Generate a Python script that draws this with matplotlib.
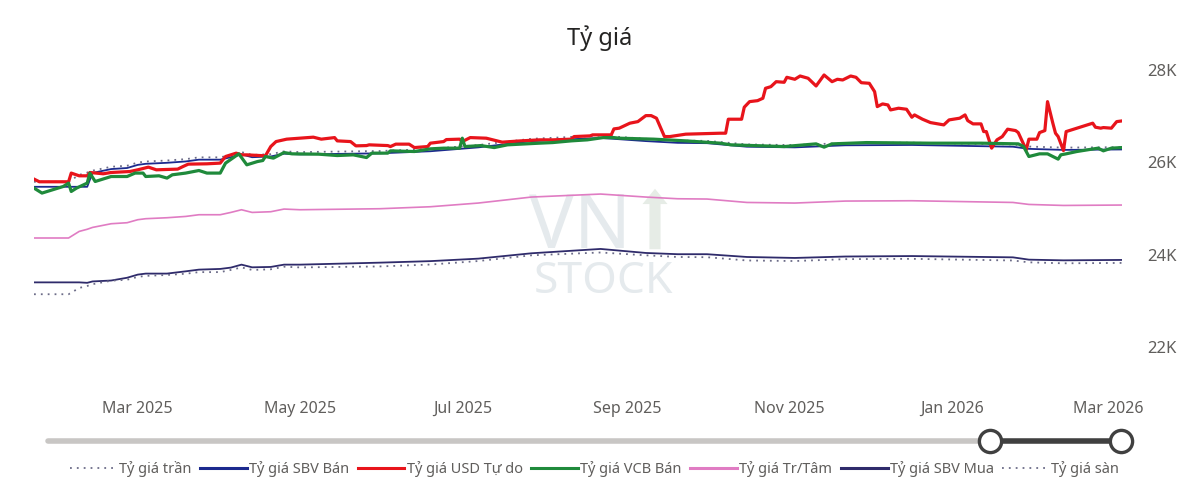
import matplotlib
matplotlib.use("Agg")
import matplotlib.pyplot as plt
import pandas as pd
from matplotlib.lines import Line2D

plt.rcParams['font.family'] = ['Noto Sans', 'DejaVu Sans']

# ---------------- data ----------------
title = "Tỷ giá"

base_dates = ["2025-01-21", "2025-02-03", "2025-02-07", "2025-02-10", "2025-02-12", "2025-02-19",
              "2025-02-25", "2025-03-01", "2025-03-04", "2025-03-12", "2025-03-19", "2025-03-24",
              "2025-04-01", "2025-04-05", "2025-04-09", "2025-04-13", "2025-04-20", "2025-04-25",
              "2025-05-01", "2025-05-31", "2025-06-19", "2025-07-07", "2025-07-27", "2025-08-22",
              "2025-09-08", "2025-09-20", "2025-10-01", "2025-10-16", "2025-11-03", "2025-11-22",
              "2025-12-17", "2026-01-24", "2026-01-30", "2026-02-12", "2026-03-06"]

tr_tam = [24361, 24361, 24504, 24550, 24590, 24670, 24692, 24757, 24779, 24800, 24828, 24865,
          24865, 24915, 24973, 24915, 24930, 24988, 24973, 24995, 25038, 25118, 25248, 25313,
          25248, 25211, 25205, 25131, 25118, 25161, 25168, 25131, 25088, 25066, 25075]

sbv_mua = [23400, 23400, 23400, 23390, 23420, 23440, 23500, 23568, 23590, 23590, 23639, 23676,
           23691, 23720, 23784, 23726, 23734, 23784, 23784, 23827, 23860, 23914, 24030, 24124,
           24037, 24010, 24010, 23950, 23929, 23960, 23970, 23942, 23892, 23877, 23886]

ty_gia_san = [23143, 23143, 23279, 23322, 23360, 23436, 23457, 23519, 23540, 23560, 23587, 23622,
              23622, 23669, 23724, 23669, 23683, 23739, 23724, 23745, 23786, 23862, 23986, 24047,
              23986, 23950, 23945, 23874, 23862, 23903, 23910, 23874, 23834, 23813, 23821]

ty_gia_tran = [25579, 25579, 25729, 25778, 25820, 25904, 25927, 25995, 26018, 26040, 26069, 26108,
               26108, 26161, 26222, 26161, 26177, 26237, 26222, 26245, 26290, 26374, 26510, 26579,
               26510, 26472, 26465, 26388, 26374, 26419, 26426, 26388, 26342, 26319, 26329]

sbv_ban = [25470, 25470, 25470, 25470, 25770, 25854, 25877, 25945, 25968, 25990, 26019, 26058,
           26058, 26111, 26172, 26111, 26127, 26187, 26172, 26195, 26240, 26324, 26460, 26529,
           26460, 26422, 26415, 26338, 26324, 26369, 26376, 26338, 26292, 26269, 26279]

usd_dates = ["2025-01-21", "2025-01-23", "2025-02-03", "2025-02-04", "2025-02-07", "2025-02-10",
             "2025-02-11", "2025-02-16", "2025-02-19", "2025-02-26", "2025-03-01", "2025-03-05",
             "2025-03-08", "2025-03-16", "2025-03-18", "2025-03-20", "2025-03-27", "2025-04-01",
             "2025-04-03", "2025-04-07", "2025-04-09", "2025-04-11", "2025-04-18", "2025-04-20",
             "2025-04-22", "2025-04-26", "2025-05-06", "2025-05-09", "2025-05-14", "2025-05-15",
             "2025-05-20", "2025-05-22", "2025-05-26", "2025-05-27", "2025-06-03", "2025-06-04",
             "2025-06-06", "2025-06-11", "2025-06-13", "2025-06-18", "2025-06-19", "2025-06-24",
             "2025-06-25", "2025-06-30", "2025-07-01", "2025-07-04", "2025-07-10", "2025-07-16",
             "2025-07-23", "2025-07-30", "2025-08-04", "2025-08-11", "2025-08-12", "2025-08-18",
             "2025-08-19", "2025-08-26", "2025-08-27", "2025-08-29", "2025-09-02", "2025-09-05",
             "2025-09-08", "2025-09-10", "2025-09-12", "2025-09-15", "2025-09-17", "2025-09-23",
             "2025-10-06", "2025-10-08", "2025-10-09", "2025-10-14", "2025-10-15", "2025-10-17",
             "2025-10-20", "2025-10-22", "2025-10-23", "2025-10-25", "2025-10-27", "2025-10-30",
             "2025-10-31", "2025-11-03", "2025-11-05", "2025-11-08", "2025-11-11", "2025-11-14",
             "2025-11-17", "2025-11-19", "2025-11-21", "2025-11-24", "2025-11-26", "2025-11-28",
             "2025-12-01", "2025-12-03", "2025-12-04", "2025-12-06", "2025-12-08", "2025-12-09",
             "2025-12-12", "2025-12-15", "2025-12-17", "2025-12-18", "2025-12-21", "2025-12-24",
             "2025-12-29", "2025-12-31", "2026-01-04", "2026-01-06", "2026-01-07", "2026-01-09",
             "2026-01-12", "2026-01-13", "2026-01-14", "2026-01-16", "2026-01-18", "2026-01-20",
             "2026-01-22", "2026-01-25", "2026-01-26", "2026-01-29", "2026-01-30", "2026-02-02",
             "2026-02-03", "2026-02-05", "2026-02-06", "2026-02-08", "2026-02-09", "2026-02-10",
             "2026-02-12", "2026-02-13", "2026-02-23", "2026-02-24", "2026-02-26", "2026-02-27",
             "2026-03-02", "2026-03-04", "2026-03-06"]
usd_tu_do = [25637, 25579, 25579, 25767, 25708, 25708,
             25780, 25752, 25780, 25801, 25838, 25896,
             25838, 25853, 25909, 25961, 25968, 25983,
             26126, 26199, 26162, 26162, 26141, 26342,
             26450, 26502, 26545, 26502, 26536, 26465,
             26450, 26357, 26363, 26379, 26363, 26342,
             26394, 26394, 26320, 26342, 26415, 26450,
             26493, 26502, 26450, 26536, 26523, 26437,
             26465, 26487, 26487, 26502, 26558, 26573,
             26595, 26595, 26724, 26740, 26848, 26882,
             27012, 27012, 26956, 26558, 26558, 26610,
             26631, 26631, 26934, 26934, 27194, 27315,
             27336, 27388, 27604, 27639, 27747, 27734,
             27842, 27799, 27870, 27821, 27654, 27892,
             27747, 27799, 27784, 27870, 27842, 27725,
             27712, 27531, 27207, 27265, 27243, 27135,
             27172, 27150, 26977, 27027, 26934, 26861,
             26811, 26919, 26956, 27027, 26904, 26833,
             26833, 26666, 26666, 26307, 26487, 26558,
             26718, 26688, 26644, 26270, 26502, 26502,
             26644, 26688, 27315, 26848, 26631, 26558,
             26255, 26666, 26848, 26761, 26740, 26753,
             26740, 26882, 26897]

vcb_dates = ["2025-01-21", "2025-01-24", "2025-02-01", "2025-02-03", "2025-02-04", "2025-02-06",
             "2025-02-10", "2025-02-11", "2025-02-13", "2025-02-19", "2025-02-25", "2025-02-28",
             "2025-03-03", "2025-03-04", "2025-03-09", "2025-03-12", "2025-03-14", "2025-03-19",
             "2025-03-24", "2025-03-27", "2025-04-01", "2025-04-03", "2025-04-08", "2025-04-11",
             "2025-04-15", "2025-04-17", "2025-04-18", "2025-04-21", "2025-04-25", "2025-04-28",
             "2025-05-08", "2025-05-15", "2025-05-21", "2025-05-26", "2025-05-28", "2025-06-03",
             "2025-06-04", "2025-06-13", "2025-06-19", "2025-06-24", "2025-06-30", "2025-07-01",
             "2025-07-02", "2025-07-08", "2025-07-13", "2025-07-18", "2025-07-23", "2025-07-30",
             "2025-08-04", "2025-08-11", "2025-08-17", "2025-08-23", "2025-08-27", "2025-08-29",
             "2025-09-11", "2025-09-23", "2025-10-06", "2025-10-10", "2025-10-30", "2025-11-11",
             "2025-11-14", "2025-11-17", "2025-11-30", "2025-12-24", "2026-01-12", "2026-01-26",
             "2026-01-28", "2026-01-30", "2026-02-03", "2026-02-06", "2026-02-10", "2026-02-11",
             "2026-02-13", "2026-02-17", "2026-02-25", "2026-02-27", "2026-03-02", "2026-03-06"]
vcb_ban = [25442, 25334, 25477, 25550, 25369, 25442,
           25550, 25767, 25585, 25693, 25693, 25767,
           25767, 25693, 25708, 25659, 25730, 25767,
           25823, 25767, 25767, 25983, 26184, 25946,
           26017, 26039, 26126, 26091, 26212, 26184,
           26177, 26147, 26162, 26104, 26199, 26199,
           26249, 26234, 26292, 26307, 26307, 26523,
           26342, 26363, 26320, 26379, 26394, 26415,
           26428, 26465, 26487, 26536, 26536, 26523,
           26502, 26465, 26415, 26379, 26342, 26400,
           26329, 26400, 26428, 26415, 26415, 26400,
           26342, 26126, 26184, 26184, 26069, 26162,
           26184, 26234, 26307, 26249, 26307, 26320]

y_ticks = [22000, 24000, 26000, 28000]
y_tick_labels = ["22K", "24K", "26K", "28K"]
x_ticks = ["2025-03-01", "2025-05-01", "2025-07-01", "2025-09-01", "2025-11-01", "2026-01-01", "2026-03-01"]
x_tick_labels = ["Mar 2025", "May 2025", "Jul 2025", "Sep 2025", "Nov 2025", "Jan 2026", "Mar 2026"]

labels = ["Tỷ giá trần", "Tỷ giá SBV Bán", "Tỷ giá USD Tự do", "Tỷ giá VCB Bán",
          "Tỷ giá Tr/Tâm", "Tỷ giá SBV Mua", "Tỷ giá sàn"]

# ---------------- styles ----------------
C_DOT = "#6c6c88"
C_SBVB = "#1c2a8e"
C_USD = "#e8141b"
C_VCB = "#1f8a3b"
C_TT = "#e07cc3"
C_SBVM = "#2f2b6b"
TXT = "#605e5c"
DOTS = (0, (1, 2.8))

W, H = 1200, 491
fig = plt.figure(figsize=(W / 100, H / 100), dpi=100)
fig.patch.set_facecolor("white")

# decoration layer (watermark + slider), in pixel coords
deco = fig.add_axes([0, 0, 1, 1], zorder=0)
deco.set_xlim(0, W)
deco.set_ylim(H, 0)
deco.axis("off")
deco.text(580, 228, "VN", fontsize=54, fontweight="bold", color="#e5eaed", ha="center", va="center")
deco.text(603, 282, "STOCK", fontsize=32, fontweight="bold", color="#e5eaed", ha="center", va="center")
deco.annotate("", xy=(655, 186), xytext=(655, 252),
              arrowprops=dict(arrowstyle="simple,head_width=1.8,head_length=1.1,tail_width=0.8",
                              color="#e6ece6", lw=0))

# slider
deco.plot([48, 990], [441, 441], color="#c8c6c4", lw=4, solid_capstyle="round")
deco.plot([990, 1121], [441, 441], color="#404040", lw=4)
deco.plot([990, 1121], [441, 441], ls="none", marker="o", ms=16, mfc="white", mec="#404040", mew=2.4)

# main chart
ax = fig.add_axes([34 / W, 144 / H, 1088 / W, 277 / H], zorder=1)
ax.patch.set_alpha(0)

bd = pd.to_datetime(base_dates)
ax.plot(bd, ty_gia_tran, color=C_DOT, lw=1.3, ls=DOTS)
ax.plot(bd, sbv_ban, color=C_SBVB, lw=1.3)
ax.plot(pd.to_datetime(usd_dates), usd_tu_do, color=C_USD, lw=2.3, solid_joinstyle="round")
ax.plot(pd.to_datetime(vcb_dates), vcb_ban, color=C_VCB, lw=2.3, solid_joinstyle="round")
ax.plot(bd, tr_tam, color=C_TT, lw=1.2)
ax.plot(bd, sbv_mua, color=C_SBVM, lw=1.3)
ax.plot(bd, ty_gia_san, color=C_DOT, lw=1.3, ls=DOTS)

ax.set_xlim(pd.Timestamp(base_dates[0]), pd.Timestamp(base_dates[-1]))
ax.set_ylim(22000, 28000)
for s in ax.spines.values():
    s.set_visible(False)
ax.yaxis.tick_right()
ax.set_yticks(y_ticks)
ax.set_yticklabels(y_tick_labels)
ax.set_xticks(pd.to_datetime(x_ticks))
ax.set_xticklabels(x_tick_labels)
ax.tick_params(axis="y", length=0, pad=18, labelsize=12, labelcolor=TXT)
ax.tick_params(axis="x", length=0, pad=39, labelsize=11.5, labelcolor=TXT)

fig.text(600 / W, 1 - 38 / H, title, ha="center", va="center", fontsize=17, color="#252423")

handles = [
    Line2D([], [], color=C_DOT, lw=1.3, ls=DOTS),
    Line2D([], [], color=C_SBVB, lw=2.2),
    Line2D([], [], color=C_USD, lw=2.2),
    Line2D([], [], color=C_VCB, lw=2.2),
    Line2D([], [], color=C_TT, lw=2.2),
    Line2D([], [], color=C_SBVM, lw=2.2),
    Line2D([], [], color=C_DOT, lw=1.3, ls=DOTS),
]
fig.legend(handles, labels, loc="center left", bbox_to_anchor=(70 / W, 1 - 469 / H), ncol=7,
           frameon=False, handlelength=3.2, handletextpad=0.15, columnspacing=0.6,
           fontsize=10.5, borderpad=0, borderaxespad=0, labelcolor=TXT)

fig.savefig("out.png", dpi=100, facecolor="white")
